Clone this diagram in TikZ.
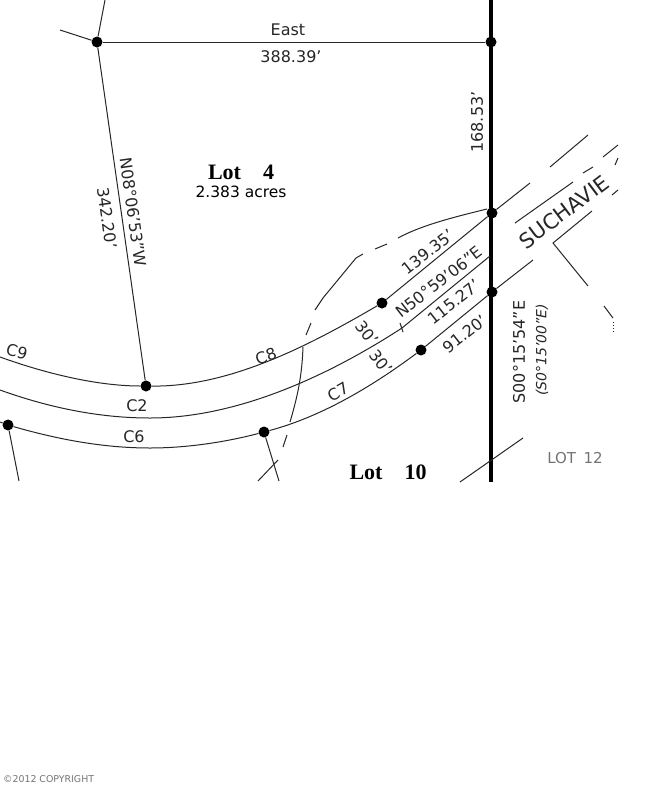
\documentclass[tikz,border=0pt]{standalone}
\usepackage{fontspec}
\setmainfont{DejaVu Sans}
\newfontfamily\lotfont{Liberation Serif}
\usepackage{tikz}

\tikzset{
	lotline/.style={line width=1pt, color=black!85},
	bound/.style={line width=3.6pt, color=black},
	pin/.style={circle, fill=black, inner sep=0pt, minimum size=11pt},
	survey/.style={inner sep=0pt, font=\fontsize{16}{16}\selectfont, color=black!85},
	recorded/.style={inner sep=0pt, font=\fontsize{14}{14}\selectfont\itshape, color=black!85},
	lottitle/.style={inner sep=0pt, font=\lotfont\bfseries\fontsize{22}{22}\selectfont},
	faint/.style={inner sep=0pt, color=black!55}
}

\begin{document}
\begin{tikzpicture}[x=1pt,y=-1pt]
	\useasboundingbox (0,0) rectangle (650,807);

	\node[pin] (corner) at (97,42) {};
	\node[pin] (eastend) at (491,42) {};
	\node[pin] (roadtop) at (492,213) {};
	\node[pin] (roadlow) at (492,292) {};
	\node[pin] (pincurve) at (382,303) {};
	\node[pin] (pinlow) at (421,350) {};
	\node[pin] (pinlot) at (146,386) {};
	\node[pin] (pinright) at (264,432) {};
	\node[pin] (pinleft) at (8,425) {};

	\coordinate (boundtop) at (491,0);
	\coordinate (boundend) at (491,482);
	\coordinate (nwa) at (105,0);
	\coordinate (nwb) at (60,30);
	\coordinate (leftcut) at (19,481);
	\coordinate (rightcut) at (279,481);

	\draw[bound] (boundtop) -- (boundend);
	\draw[lotline] (corner) -- (eastend);
	\draw[lotline] (corner) -- (pinlot);
	\draw[lotline] (corner) -- (nwa);
	\draw[lotline] (corner) -- (nwb);
	\draw[lotline] (pinleft) -- (leftcut);
	\draw[lotline] (pinright) -- (rightcut);

	% road edges
	\draw[lotline] (0,357) .. controls (50,375) and (100,386) .. (pinlot);
	\draw[lotline] (pinlot) .. controls (230,387) and (310,345) .. (pincurve);
	\draw[lotline] (pincurve) -- (roadtop);
	\draw[lotline] (0,390) .. controls (50,408) and (100,418) .. (150,418) .. controls (235,418) and (325,378) .. (402,328) -- (490,256);
	\draw[lotline] (0,422) -- (pinleft);
	\draw[lotline] (pinleft) .. controls (60,440) and (105,448) .. (150,448) .. controls (190,448) and (230,441) .. (pinright);
	\draw[lotline] (pinright) .. controls (320,417) and (370,388) .. (pinlow);
	\draw[lotline] (pinlow) -- (roadlow);
	\draw[lotline] (400,323) -- (403,332);

	% road past the boundary
	\draw[lotline] (roadtop) -- (530,183);
	\draw[lotline] (550,167) -- (588,135);
	\draw[lotline] (515,223) -- (573,182);
	\draw[lotline] (583,173) -- (593,167);
	\draw[lotline] (603,157) -- (618,145);
	\draw[lotline] (roadlow) -- (533,260);
	\draw[lotline] (592,211) -- (553,243) -- (588,286);
	\draw[lotline] (612,195) -- (618,190);
	\draw[lotline] (615,165) -- (618,158);
	\draw[lotline] (604,306) -- (613,318);
	\draw[lotline, dotted] (613,322) -- (613,333);
	\draw[lotline] (460,482) -- (523,438);
	\draw[lotline] (258,481) -- (278,460);

	% dashed line across lot
	\draw[lotline] (487,209) .. controls (450,218) and (420,226) .. (398,238);
	\draw[lotline] (375,249) -- (387,244);
	\draw[lotline] (363,254) -- (356,258) -- (323,298) -- (315,310);
	\draw[lotline] (311,323) -- (306,335);
	\draw[lotline] (303,347) .. controls (302,375) and (298,395) .. (290,422);
	\draw[lotline] (287,435) -- (283,447);

	\node[survey] (east) at (288,30) {East};
	\node[survey] (eastlen) at (291,57) {388.39'};
	\node[survey, rotate=-82] (bearing) at (133,212) {N08°06'53"W};
	\node[survey, rotate=-82] (westlen) at (107,218) {342.20'};
	\node[survey, rotate=90] (northlen) at (477,122) {168.53'};
	\node[survey, rotate=38] (toplen) at (428,252) {139.35'};
	\node[survey, rotate=38] (roadbearing) at (439,282) {N50°59'06"E};
	\node[survey, rotate=38] (midlen) at (454,302) {115.27'};
	\node[survey, rotate=38] (lowlen) at (465,334) {91.20'};
	\node[survey, rotate=-52] (widtha) at (367,333) {30'};
	\node[survey, rotate=-52] (widthb) at (381,362) {30'};
	\node[survey, rotate=90] (southbearing) at (519,352) {S00°15'54"E};
	\node[recorded, rotate=90] (record) at (542,350) {(S0°15'00"E)};
	\node[survey, font=\fontsize{21}{21}\selectfont, rotate=37] (roadname) at (564,212) {SUCHAVIE};

	\node[survey, rotate=-15] (cnine) at (17,352) {C9};
	\node[survey, rotate=20] (ceight) at (266,356) {C8};
	\node[survey] (ctwo) at (137,406) {C2};
	\node[survey] (csix) at (134,437) {C6};
	\node[survey, rotate=30] (cseven) at (338,392) {C7};

	\node[lottitle] (lotfour) at (241,172) {Lot\quad 4};
	\node[inner sep=0pt, font=\fontsize{15.5}{15.5}\selectfont] (acres) at (241,192) {2.383 acres};
	\node[lottitle] (lotten) at (388,472) {Lot\quad 10};
	\node[faint, font=\fontsize{15}{15}\selectfont] (lottwelve) at (575,458) {LOT\enspace 12};
	\node[faint, anchor=west, font=\fontsize{9.4}{9.4}\selectfont] (copyright) at (3,779) {©2012 COPYRIGHT};
\end{tikzpicture}
\end{document}
